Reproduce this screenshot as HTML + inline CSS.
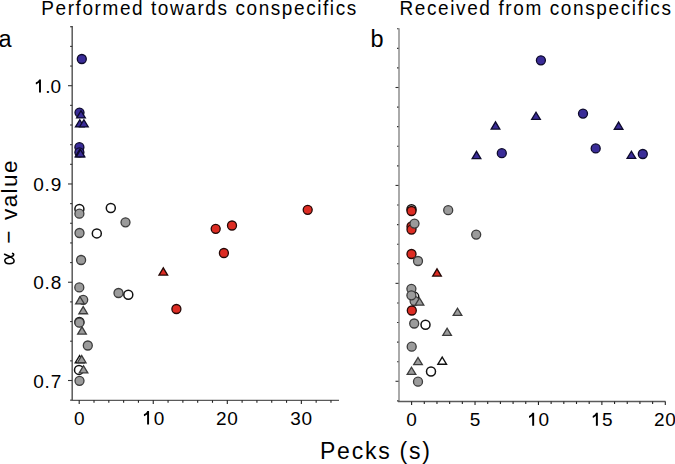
<!DOCTYPE html>
<html><head><meta charset="utf-8"><style>
html,body{margin:0;padding:0;background:#fff;width:675px;height:464px;overflow:hidden}
svg{display:block}
text{font-family:"Liberation Sans",sans-serif;fill:#000}
</style></head><body>
<svg width="675" height="464" viewBox="0 0 675 464">
<rect width="675" height="464" fill="#fff"/>
<line x1="72.2" y1="26" x2="72.2" y2="400.3" stroke="#5a5a5a" stroke-width="1.5"/>
<line x1="70.10" y1="400.16" x2="72.2" y2="400.16" stroke="#333" stroke-width="1.1"/>
<line x1="68.00" y1="380.51" x2="72.2" y2="380.51" stroke="#333" stroke-width="1.1"/>
<line x1="70.10" y1="360.86" x2="72.2" y2="360.86" stroke="#333" stroke-width="1.1"/>
<line x1="70.10" y1="341.20" x2="72.2" y2="341.20" stroke="#333" stroke-width="1.1"/>
<line x1="70.10" y1="321.55" x2="72.2" y2="321.55" stroke="#333" stroke-width="1.1"/>
<line x1="70.10" y1="301.89" x2="72.2" y2="301.89" stroke="#333" stroke-width="1.1"/>
<line x1="68.00" y1="282.24" x2="72.2" y2="282.24" stroke="#333" stroke-width="1.1"/>
<line x1="70.10" y1="262.59" x2="72.2" y2="262.59" stroke="#333" stroke-width="1.1"/>
<line x1="70.10" y1="242.93" x2="72.2" y2="242.93" stroke="#333" stroke-width="1.1"/>
<line x1="70.10" y1="223.28" x2="72.2" y2="223.28" stroke="#333" stroke-width="1.1"/>
<line x1="70.10" y1="203.62" x2="72.2" y2="203.62" stroke="#333" stroke-width="1.1"/>
<line x1="68.00" y1="183.97" x2="72.2" y2="183.97" stroke="#333" stroke-width="1.1"/>
<line x1="70.10" y1="164.32" x2="72.2" y2="164.32" stroke="#333" stroke-width="1.1"/>
<line x1="70.10" y1="144.66" x2="72.2" y2="144.66" stroke="#333" stroke-width="1.1"/>
<line x1="70.10" y1="125.01" x2="72.2" y2="125.01" stroke="#333" stroke-width="1.1"/>
<line x1="70.10" y1="105.35" x2="72.2" y2="105.35" stroke="#333" stroke-width="1.1"/>
<line x1="68.00" y1="85.70" x2="72.2" y2="85.70" stroke="#333" stroke-width="1.1"/>
<line x1="70.10" y1="66.05" x2="72.2" y2="66.05" stroke="#333" stroke-width="1.1"/>
<line x1="70.10" y1="46.39" x2="72.2" y2="46.39" stroke="#333" stroke-width="1.1"/>
<line x1="70.10" y1="26.74" x2="72.2" y2="26.74" stroke="#333" stroke-width="1.1"/>
<line x1="72" y1="400.3" x2="339" y2="400.3" stroke="#5a5a5a" stroke-width="1.3"/>
<line x1="79.20" y1="400.3" x2="79.20" y2="403.90" stroke="#222" stroke-width="1.1"/>
<line x1="94.01" y1="400.3" x2="94.01" y2="402.80" stroke="#222" stroke-width="1.1"/>
<line x1="108.82" y1="400.3" x2="108.82" y2="402.80" stroke="#222" stroke-width="1.1"/>
<line x1="123.63" y1="400.3" x2="123.63" y2="402.80" stroke="#222" stroke-width="1.1"/>
<line x1="138.44" y1="400.3" x2="138.44" y2="402.80" stroke="#222" stroke-width="1.1"/>
<line x1="153.25" y1="400.3" x2="153.25" y2="403.90" stroke="#222" stroke-width="1.1"/>
<line x1="168.06" y1="400.3" x2="168.06" y2="402.80" stroke="#222" stroke-width="1.1"/>
<line x1="182.87" y1="400.3" x2="182.87" y2="402.80" stroke="#222" stroke-width="1.1"/>
<line x1="197.68" y1="400.3" x2="197.68" y2="402.80" stroke="#222" stroke-width="1.1"/>
<line x1="212.49" y1="400.3" x2="212.49" y2="402.80" stroke="#222" stroke-width="1.1"/>
<line x1="227.30" y1="400.3" x2="227.30" y2="403.90" stroke="#222" stroke-width="1.1"/>
<line x1="242.11" y1="400.3" x2="242.11" y2="402.80" stroke="#222" stroke-width="1.1"/>
<line x1="256.92" y1="400.3" x2="256.92" y2="402.80" stroke="#222" stroke-width="1.1"/>
<line x1="271.73" y1="400.3" x2="271.73" y2="402.80" stroke="#222" stroke-width="1.1"/>
<line x1="286.54" y1="400.3" x2="286.54" y2="402.80" stroke="#222" stroke-width="1.1"/>
<line x1="301.35" y1="400.3" x2="301.35" y2="403.90" stroke="#222" stroke-width="1.1"/>
<line x1="316.16" y1="400.3" x2="316.16" y2="402.80" stroke="#222" stroke-width="1.1"/>
<line x1="330.97" y1="400.3" x2="330.97" y2="402.80" stroke="#222" stroke-width="1.1"/>
<line x1="399" y1="28.2" x2="399" y2="401.5" stroke="#aaa" stroke-width="2"/>
<line x1="397.00" y1="400.88" x2="398.5" y2="400.88" stroke="#333" stroke-width="1.1"/>
<line x1="395.50" y1="381.29" x2="398.5" y2="381.29" stroke="#333" stroke-width="1.1"/>
<line x1="397.00" y1="361.70" x2="398.5" y2="361.70" stroke="#333" stroke-width="1.1"/>
<line x1="397.00" y1="342.12" x2="398.5" y2="342.12" stroke="#333" stroke-width="1.1"/>
<line x1="397.00" y1="322.53" x2="398.5" y2="322.53" stroke="#333" stroke-width="1.1"/>
<line x1="397.00" y1="302.95" x2="398.5" y2="302.95" stroke="#333" stroke-width="1.1"/>
<line x1="395.50" y1="283.36" x2="398.5" y2="283.36" stroke="#333" stroke-width="1.1"/>
<line x1="397.00" y1="263.77" x2="398.5" y2="263.77" stroke="#333" stroke-width="1.1"/>
<line x1="397.00" y1="244.19" x2="398.5" y2="244.19" stroke="#333" stroke-width="1.1"/>
<line x1="397.00" y1="224.60" x2="398.5" y2="224.60" stroke="#333" stroke-width="1.1"/>
<line x1="397.00" y1="205.02" x2="398.5" y2="205.02" stroke="#333" stroke-width="1.1"/>
<line x1="395.50" y1="185.43" x2="398.5" y2="185.43" stroke="#333" stroke-width="1.1"/>
<line x1="397.00" y1="165.84" x2="398.5" y2="165.84" stroke="#333" stroke-width="1.1"/>
<line x1="397.00" y1="146.26" x2="398.5" y2="146.26" stroke="#333" stroke-width="1.1"/>
<line x1="397.00" y1="126.67" x2="398.5" y2="126.67" stroke="#333" stroke-width="1.1"/>
<line x1="397.00" y1="107.09" x2="398.5" y2="107.09" stroke="#333" stroke-width="1.1"/>
<line x1="395.50" y1="87.50" x2="398.5" y2="87.50" stroke="#333" stroke-width="1.1"/>
<line x1="397.00" y1="67.91" x2="398.5" y2="67.91" stroke="#333" stroke-width="1.1"/>
<line x1="397.00" y1="48.33" x2="398.5" y2="48.33" stroke="#333" stroke-width="1.1"/>
<line x1="397.00" y1="28.74" x2="398.5" y2="28.74" stroke="#333" stroke-width="1.1"/>
<line x1="398" y1="401.5" x2="665.5" y2="401.5" stroke="#5a5a5a" stroke-width="1.3"/>
<line x1="411.60" y1="401.5" x2="411.60" y2="405.10" stroke="#222" stroke-width="1.1"/>
<line x1="424.29" y1="401.5" x2="424.29" y2="404.00" stroke="#222" stroke-width="1.1"/>
<line x1="436.97" y1="401.5" x2="436.97" y2="404.00" stroke="#222" stroke-width="1.1"/>
<line x1="449.66" y1="401.5" x2="449.66" y2="404.00" stroke="#222" stroke-width="1.1"/>
<line x1="462.34" y1="401.5" x2="462.34" y2="404.00" stroke="#222" stroke-width="1.1"/>
<line x1="475.03" y1="401.5" x2="475.03" y2="405.10" stroke="#222" stroke-width="1.1"/>
<line x1="487.71" y1="401.5" x2="487.71" y2="404.00" stroke="#222" stroke-width="1.1"/>
<line x1="500.40" y1="401.5" x2="500.40" y2="404.00" stroke="#222" stroke-width="1.1"/>
<line x1="513.08" y1="401.5" x2="513.08" y2="404.00" stroke="#222" stroke-width="1.1"/>
<line x1="525.76" y1="401.5" x2="525.76" y2="404.00" stroke="#222" stroke-width="1.1"/>
<line x1="538.45" y1="401.5" x2="538.45" y2="405.10" stroke="#222" stroke-width="1.1"/>
<line x1="551.13" y1="401.5" x2="551.13" y2="404.00" stroke="#222" stroke-width="1.1"/>
<line x1="563.82" y1="401.5" x2="563.82" y2="404.00" stroke="#222" stroke-width="1.1"/>
<line x1="576.50" y1="401.5" x2="576.50" y2="404.00" stroke="#222" stroke-width="1.1"/>
<line x1="589.19" y1="401.5" x2="589.19" y2="404.00" stroke="#222" stroke-width="1.1"/>
<line x1="601.88" y1="401.5" x2="601.88" y2="405.10" stroke="#222" stroke-width="1.1"/>
<line x1="614.56" y1="401.5" x2="614.56" y2="404.00" stroke="#222" stroke-width="1.1"/>
<line x1="627.25" y1="401.5" x2="627.25" y2="404.00" stroke="#222" stroke-width="1.1"/>
<line x1="639.93" y1="401.5" x2="639.93" y2="404.00" stroke="#222" stroke-width="1.1"/>
<line x1="652.62" y1="401.5" x2="652.62" y2="404.00" stroke="#222" stroke-width="1.1"/>
<line x1="665.30" y1="401.5" x2="665.30" y2="405.10" stroke="#222" stroke-width="1.1"/>
<circle cx="81.8" cy="59" r="4.5" fill="#3a2c98" stroke="#0d0a2c" stroke-width="1.3"/>
<circle cx="79.5" cy="112.6" r="4.5" fill="#3a2c98" stroke="#0d0a2c" stroke-width="1.3"/>
<polygon points="76.67,117.95 85.33,117.95 81.00,110.77" fill="#3a2c98" stroke="#0d0a2c" stroke-width="1.3" stroke-linejoin="miter"/>
<polygon points="75.47,126.95 84.12,126.95 79.80,119.77" fill="#3a2c98" stroke="#0d0a2c" stroke-width="1.3" stroke-linejoin="miter"/>
<polygon points="79.58,126.95 88.23,126.95 83.90,119.77" fill="#3a2c98" stroke="#0d0a2c" stroke-width="1.3" stroke-linejoin="miter"/>
<circle cx="79.4" cy="147.2" r="4.5" fill="#3a2c98" stroke="#0d0a2c" stroke-width="1.3"/>
<circle cx="79.4" cy="152.3" r="4.5" fill="#3a2c98" stroke="#0d0a2c" stroke-width="1.3"/>
<polygon points="75.17,156.95 83.83,156.95 79.50,149.77" fill="#3a2c98" stroke="#0d0a2c" stroke-width="1.3" stroke-linejoin="miter"/>
<polygon points="76.17,156.95 84.83,156.95 80.50,149.77" fill="#3a2c98" stroke="#0d0a2c" stroke-width="1.3" stroke-linejoin="miter"/>
<circle cx="79.4" cy="209" r="4.5" fill="#ffffff" stroke="#111" stroke-width="1.5"/>
<circle cx="79.4" cy="213.7" r="4.5" fill="#9b9b9b" stroke="#3c3c3c" stroke-width="1.3"/>
<circle cx="110.8" cy="208" r="4.5" fill="#ffffff" stroke="#111" stroke-width="1.5"/>
<circle cx="125.5" cy="222.3" r="4.5" fill="#9b9b9b" stroke="#3c3c3c" stroke-width="1.3"/>
<circle cx="79.5" cy="233" r="4.5" fill="#9b9b9b" stroke="#3c3c3c" stroke-width="1.3"/>
<circle cx="96.8" cy="233.4" r="4.5" fill="#ffffff" stroke="#111" stroke-width="1.5"/>
<circle cx="81.1" cy="260" r="4.5" fill="#9b9b9b" stroke="#3c3c3c" stroke-width="1.3"/>
<polygon points="158.98,275.05 167.62,275.05 163.30,267.87" fill="#dd2c23" stroke="#250806" stroke-width="1.3" stroke-linejoin="miter"/>
<circle cx="79.3" cy="287.4" r="4.5" fill="#9b9b9b" stroke="#3c3c3c" stroke-width="1.3"/>
<circle cx="83.2" cy="299.8" r="4.5" fill="#9b9b9b" stroke="#3c3c3c" stroke-width="1.3"/>
<polygon points="75.67,303.85 84.33,303.85 80.00,296.67" fill="#9b9b9b" stroke="#3c3c3c" stroke-width="1.3" stroke-linejoin="miter"/>
<circle cx="118.5" cy="293" r="4.5" fill="#9b9b9b" stroke="#3c3c3c" stroke-width="1.3"/>
<circle cx="128.3" cy="294.7" r="4.5" fill="#ffffff" stroke="#111" stroke-width="1.5"/>
<polygon points="78.88,313.75 87.53,313.75 83.20,306.57" fill="#9b9b9b" stroke="#3c3c3c" stroke-width="1.3" stroke-linejoin="miter"/>
<circle cx="79.4" cy="321.9" r="4.5" fill="#ffffff" stroke="#111" stroke-width="1.5"/>
<circle cx="79.4" cy="322.7" r="4.5" fill="#9b9b9b" stroke="#3c3c3c" stroke-width="1.3"/>
<polygon points="77.67,334.05 86.33,334.05 82.00,326.87" fill="#9b9b9b" stroke="#3c3c3c" stroke-width="1.3" stroke-linejoin="miter"/>
<circle cx="87.8" cy="345.5" r="4.5" fill="#9b9b9b" stroke="#3c3c3c" stroke-width="1.3"/>
<polygon points="75.27,362.75 83.92,362.75 79.60,355.57" fill="#ffffff" stroke="#111" stroke-width="1.4" stroke-linejoin="miter"/>
<polygon points="77.38,362.75 86.03,362.75 81.70,355.57" fill="#9b9b9b" stroke="#3c3c3c" stroke-width="1.3" stroke-linejoin="miter"/>
<circle cx="79" cy="369.9" r="4.5" fill="#ffffff" stroke="#111" stroke-width="1.5"/>
<polygon points="79.17,372.85 87.83,372.85 83.50,365.67" fill="#9b9b9b" stroke="#3c3c3c" stroke-width="1.3" stroke-linejoin="miter"/>
<circle cx="79.5" cy="380.8" r="4.5" fill="#9b9b9b" stroke="#3c3c3c" stroke-width="1.3"/>
<circle cx="176.4" cy="309" r="4.5" fill="#dd2c23" stroke="#250806" stroke-width="1.3"/>
<circle cx="215.7" cy="228.8" r="4.5" fill="#dd2c23" stroke="#250806" stroke-width="1.3"/>
<circle cx="232" cy="225.5" r="4.5" fill="#dd2c23" stroke="#250806" stroke-width="1.3"/>
<circle cx="223.9" cy="253" r="4.5" fill="#dd2c23" stroke="#250806" stroke-width="1.3"/>
<circle cx="307.7" cy="209.8" r="4.5" fill="#dd2c23" stroke="#250806" stroke-width="1.3"/>
<circle cx="540.9" cy="60.3" r="4.5" fill="#3a2c98" stroke="#0d0a2c" stroke-width="1.3"/>
<circle cx="583" cy="113.6" r="4.5" fill="#3a2c98" stroke="#0d0a2c" stroke-width="1.3"/>
<circle cx="501.8" cy="153.2" r="4.5" fill="#3a2c98" stroke="#0d0a2c" stroke-width="1.3"/>
<circle cx="595.7" cy="148.4" r="4.5" fill="#3a2c98" stroke="#0d0a2c" stroke-width="1.3"/>
<circle cx="642.8" cy="154" r="4.5" fill="#3a2c98" stroke="#0d0a2c" stroke-width="1.3"/>
<polygon points="491.18,129.05 499.82,129.05 495.50,121.87" fill="#3a2c98" stroke="#0d0a2c" stroke-width="1.3" stroke-linejoin="miter"/>
<polygon points="531.67,119.45 540.33,119.45 536.00,112.27" fill="#3a2c98" stroke="#0d0a2c" stroke-width="1.3" stroke-linejoin="miter"/>
<polygon points="472.18,158.55 480.82,158.55 476.50,151.37" fill="#3a2c98" stroke="#0d0a2c" stroke-width="1.3" stroke-linejoin="miter"/>
<polygon points="614.27,129.25 622.93,129.25 618.60,122.07" fill="#3a2c98" stroke="#0d0a2c" stroke-width="1.3" stroke-linejoin="miter"/>
<polygon points="627.07,158.45 635.73,158.45 631.40,151.27" fill="#3a2c98" stroke="#0d0a2c" stroke-width="1.3" stroke-linejoin="miter"/>
<circle cx="411.5" cy="209.3" r="4.5" fill="#ffffff" stroke="#111" stroke-width="1.5"/>
<circle cx="411.5" cy="211.0" r="4.5" fill="#dd2c23" stroke="#250806" stroke-width="1.3"/>
<circle cx="411.5" cy="226.5" r="4.5" fill="#dd2c23" stroke="#250806" stroke-width="1.3"/>
<circle cx="411.5" cy="229.6" r="4.5" fill="#dd2c23" stroke="#250806" stroke-width="1.3"/>
<circle cx="414.5" cy="223.6" r="4.5" fill="#9b9b9b" stroke="#3c3c3c" stroke-width="1.3"/>
<circle cx="411.5" cy="254" r="4.5" fill="#dd2c23" stroke="#250806" stroke-width="1.3"/>
<circle cx="418" cy="261" r="4.5" fill="#9b9b9b" stroke="#3c3c3c" stroke-width="1.3"/>
<circle cx="448.2" cy="210.2" r="4.5" fill="#9b9b9b" stroke="#3c3c3c" stroke-width="1.3"/>
<circle cx="476.2" cy="234.6" r="4.5" fill="#9b9b9b" stroke="#3c3c3c" stroke-width="1.3"/>
<polygon points="432.68,276.05 441.32,276.05 437.00,268.87" fill="#dd2c23" stroke="#250806" stroke-width="1.3" stroke-linejoin="miter"/>
<circle cx="414.2" cy="296.6" r="4.5" fill="#ffffff" stroke="#111" stroke-width="1.5"/>
<circle cx="414.6" cy="301" r="4.5" fill="#9b9b9b" stroke="#3c3c3c" stroke-width="1.3"/>
<circle cx="411.4" cy="288.8" r="4.5" fill="#9b9b9b" stroke="#3c3c3c" stroke-width="1.3"/>
<circle cx="411.4" cy="295.3" r="4.5" fill="#9b9b9b" stroke="#3c3c3c" stroke-width="1.3"/>
<polygon points="415.18,305.15 423.82,305.15 419.50,297.97" fill="#9b9b9b" stroke="#3c3c3c" stroke-width="1.3" stroke-linejoin="miter"/>
<circle cx="411.8" cy="310.5" r="4.5" fill="#dd2c23" stroke="#250806" stroke-width="1.3"/>
<polygon points="453.18,315.45 461.82,315.45 457.50,308.27" fill="#9b9b9b" stroke="#3c3c3c" stroke-width="1.3" stroke-linejoin="miter"/>
<polygon points="442.78,335.35 451.43,335.35 447.10,328.17" fill="#9b9b9b" stroke="#3c3c3c" stroke-width="1.3" stroke-linejoin="miter"/>
<circle cx="414.2" cy="323.5" r="4.5" fill="#9b9b9b" stroke="#3c3c3c" stroke-width="1.3"/>
<circle cx="425.5" cy="324.7" r="4.5" fill="#ffffff" stroke="#111" stroke-width="1.5"/>
<circle cx="411.7" cy="346.7" r="4.5" fill="#9b9b9b" stroke="#3c3c3c" stroke-width="1.3"/>
<polygon points="413.68,364.65 422.32,364.65 418.00,357.47" fill="#9b9b9b" stroke="#3c3c3c" stroke-width="1.3" stroke-linejoin="miter"/>
<polygon points="437.88,364.25 446.52,364.25 442.20,357.07" fill="#ffffff" stroke="#111" stroke-width="1.4" stroke-linejoin="miter"/>
<circle cx="431" cy="371.5" r="4.5" fill="#ffffff" stroke="#111" stroke-width="1.5"/>
<polygon points="407.18,374.45 415.82,374.45 411.50,367.27" fill="#9b9b9b" stroke="#3c3c3c" stroke-width="1.3" stroke-linejoin="miter"/>
<circle cx="418" cy="381.7" r="4.5" fill="#9b9b9b" stroke="#3c3c3c" stroke-width="1.3"/>
<text transform="translate(41.3,14.5) scale(0.95,1)" font-size="20" letter-spacing="1.66" >Performed towards conspecifics</text>
<text transform="translate(399.4,14.5) scale(0.95,1)" font-size="20" letter-spacing="1.7" >Received from conspecifics</text>
<text x="-1.6" y="47" font-size="23.5" >a</text>
<text x="370.5" y="47" font-size="23.5" >b</text>
<polygon fill="#000" points="40.95,79.40 40.95,92.60 39.00,92.60 39.00,82.70 36.10,84.60 35.80,84.00 35.80,82.60 38.00,81.30 39.20,79.40"/>
<text x="45.2" y="92.6" font-size="19" >.0</text>
<text x="33.2" y="191.3" font-size="19" letter-spacing="0.8" >0.9</text>
<text x="33.2" y="289.4" font-size="19" letter-spacing="0.8" >0.8</text>
<text x="33.2" y="387.5" font-size="19" letter-spacing="0.8" >0.7</text>
<text x="79.2" y="424.5" font-size="19" text-anchor="middle" >0</text>
<polygon fill="#000" points="149.05,411.10 149.05,424.60 147.10,424.60 147.10,414.40 144.20,416.30 143.90,415.70 143.90,414.30 146.10,413.00 147.30,411.10"/>
<text x="153.7" y="424.5" font-size="19" >0</text>
<text x="227.3" y="424.5" font-size="19" text-anchor="middle" letter-spacing="0.7" >20</text>
<text x="301.4" y="424.5" font-size="19" text-anchor="middle" letter-spacing="0.7" >30</text>
<text x="411.6" y="425.8" font-size="19" text-anchor="middle" >0</text>
<text x="475.0" y="425.8" font-size="19" text-anchor="middle" >5</text>
<polygon fill="#000" points="534.15,412.70 534.15,425.80 532.20,425.80 532.20,416.00 529.30,417.90 529.00,417.30 529.00,415.90 531.20,414.60 532.40,412.70"/>
<text x="538.5" y="425.8" font-size="19" >0</text>
<polygon fill="#000" points="597.85,412.70 597.85,425.80 595.90,425.80 595.90,416.00 593.00,417.90 592.70,417.30 592.70,415.90 594.90,414.60 596.10,412.70"/>
<text x="602.1" y="425.8" font-size="19" >5</text>
<text x="665.3" y="425.8" font-size="19" text-anchor="middle" letter-spacing="0.7" >20</text>
<text x="320" y="458.7" font-size="23" letter-spacing="1.75" >Pecks (s)</text>
<text transform="translate(16.8,189.6) rotate(-90)" font-size="22.5" text-anchor="middle" letter-spacing="1.4" >value</text>
<text transform="translate(15.5,237.2) rotate(-90)" font-size="22.5" text-anchor="middle" >−</text>
<path transform="translate(14,264.3) rotate(-90)" fill="none" stroke="#000" stroke-width="1.55" stroke-linecap="round" d="M 10.1,-9.4 C 8.7,-6.5 7.6,-3.8 6.5,-2 C 5.5,-0.4 4.6,0.1 3.6,0.1 C 1.5,0.1 0.6,-2.2 0.6,-4.8 C 0.6,-7.5 2,-9.2 4,-9.2 C 6,-9.2 6.8,-6 7.5,-3.5 C 8,-1.5 8.8,-0.3 9.9,-0.3 C 10.5,-0.3 10.8,-0.8 10.9,-1.4"/>
</svg>
</body></html>
